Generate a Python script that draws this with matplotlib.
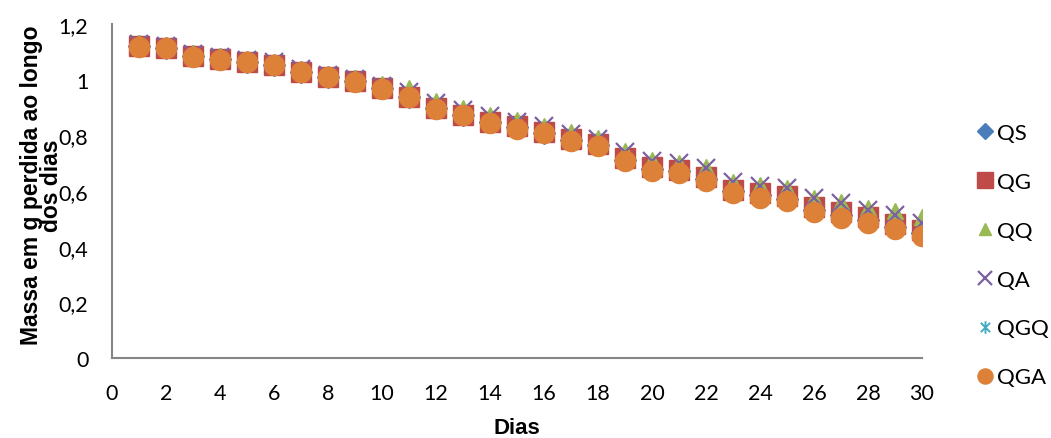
import matplotlib.pyplot as plt
from matplotlib.path import Path
from matplotlib.ticker import FuncFormatter

# dias de medicao
dias = list(range(1, 31))

# massa (g) por tratamento
qs = [1.121, 1.114, 1.085, 1.073, 1.064, 1.054, 1.029, 1.010, 0.994, 0.970,
      0.937, 0.897, 0.872, 0.847, 0.829, 0.810, 0.783, 0.765, 0.711, 0.678,
      0.671, 0.642, 0.599, 0.585, 0.573, 0.533, 0.513, 0.495, 0.472, 0.449]
qg = [1.121, 1.114, 1.085, 1.073, 1.064, 1.054, 1.029, 1.010, 0.994, 0.970,
      0.938, 0.897, 0.873, 0.848, 0.834, 0.812, 0.786, 0.770, 0.717, 0.685,
      0.676, 0.649, 0.604, 0.594, 0.582, 0.541, 0.523, 0.505, 0.480, 0.460]
qq = [1.132, 1.125, 1.096, 1.084, 1.075, 1.065, 1.040, 1.021, 1.005, 0.986,
      0.969, 0.922, 0.897, 0.874, 0.856, 0.835, 0.811, 0.790, 0.743, 0.710,
      0.700, 0.685, 0.631, 0.622, 0.610, 0.574, 0.559, 0.538, 0.527, 0.505]
qa = [1.129, 1.122, 1.093, 1.081, 1.072, 1.062, 1.037, 1.018, 1.002, 0.978,
      0.955, 0.915, 0.891, 0.868, 0.847, 0.832, 0.805, 0.787, 0.739, 0.707,
      0.700, 0.683, 0.631, 0.619, 0.610, 0.576, 0.558, 0.532, 0.513, 0.486]
qgq = [1.117, 1.110, 1.081, 1.069, 1.060, 1.050, 1.025, 1.006, 0.990, 0.966,
       0.934, 0.894, 0.870, 0.844, 0.822, 0.806, 0.778, 0.758, 0.704, 0.670,
       0.664, 0.634, 0.592, 0.574, 0.562, 0.524, 0.502, 0.484, 0.463, 0.437]
qga = [1.119, 1.112, 1.083, 1.071, 1.062, 1.052, 1.027, 1.008, 0.992, 0.968,
       0.936, 0.896, 0.872, 0.846, 0.824, 0.808, 0.780, 0.760, 0.706, 0.672,
       0.666, 0.636, 0.594, 0.576, 0.564, 0.526, 0.504, 0.486, 0.465, 0.438]

nomes = ['QS', 'QG', 'QQ', 'QA', 'QGQ', 'QGA']
xticks = list(range(0, 31, 2))
yticks = [0, 0.2, 0.4, 0.6, 0.8, 1.0, 1.2]

# marcador estrela do excel: X com traco vertical
estrela = Path([(0, -1), (0, 1), (-0.75, -0.75), (0.75, 0.75), (-0.75, 0.75), (0.75, -0.75)],
               [Path.MOVETO, Path.LINETO, Path.MOVETO, Path.LINETO, Path.MOVETO, Path.LINETO])

estilos = [
    dict(marker='D', color='#4A7EBB', ms=11),
    dict(marker='s', color='#BE4B48', ms=14.5),
    dict(marker='^', color='#98B954', ms=12),
    dict(marker='x', color='#7D60A0', ms=13, mew=1.6),
    dict(marker=estrela, color='#46AAC5', ms=12, mew=1.4),
    dict(marker='o', color='#DD8139', ms=14.5),
]

plt.rcParams['font.family'] = ['Lato', 'DejaVu Sans']

fig = plt.figure(figsize=(10.51, 4.39), dpi=100)
ax = fig.add_axes([112 / 1051, 1 - 359 / 439, 810 / 1051, 334 / 439])

for serie, nome, est in zip([qs, qg, qq, qa, qgq, qga], nomes, estilos):
    ax.plot(dias, serie, linestyle='none', label=nome, mec=est['color'], **est)

ax.set_xlim(0, 30)
ax.set_ylim(0, 1.2)
ax.set_xticks(xticks)
ax.set_yticks(yticks)
ax.yaxis.set_major_formatter(FuncFormatter(lambda v, p: f'{v:g}'.replace('.', ',')))
ax.tick_params(length=0, labelsize=15.5, colors='black')
ax.tick_params(axis='y', pad=17)
ax.tick_params(axis='x', pad=18)

for s in ['top', 'right']:
    ax.spines[s].set_visible(False)
for s in ['left', 'bottom']:
    ax.spines[s].set_color('#868686')
    ax.spines[s].set_linewidth(1.5)

ax.set_xlabel('Dias', fontsize=16, fontweight='bold', family='Liberation Sans')
ax.xaxis.set_label_coords(0.5, -0.178)
ax.set_ylabel('Massa em g perdida ao longo\ndos dias', fontsize=16.5, fontweight='bold',
              family='Liberation Sans', linespacing=0.85)
ax.yaxis.set_label_coords(-0.06, 0.52)

ax.legend(loc='upper left', bbox_to_anchor=(965 / 1051, 1 - 115 / 439),
          bbox_transform=fig.transFigure, frameon=False, fontsize=16,
          labelspacing=1.3, handletextpad=0.05, handlelength=1.0, borderaxespad=0,
          markerscale=0.75)

fig.savefig('out.png', dpi=100)
